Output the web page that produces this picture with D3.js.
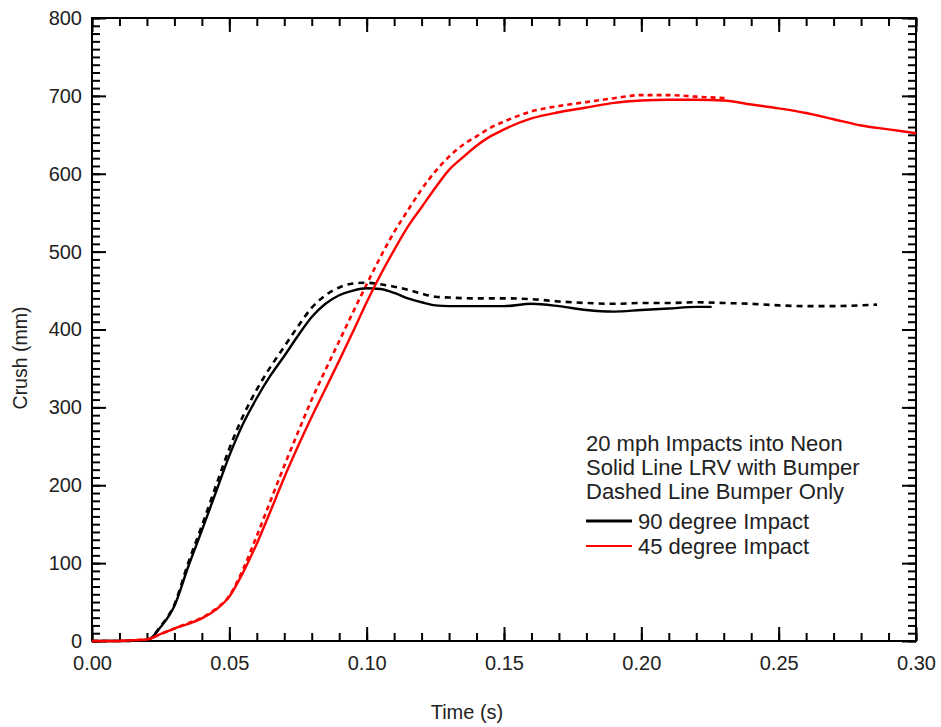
<!DOCTYPE html>
<html><head><meta charset="utf-8">
<script src="https://cdn.jsdelivr.net/npm/d3@7"></script>
<style>
body{margin:0;background:#fff}
text{font-family:Arial,"Liberation Sans",sans-serif;fill:#222}
</style>
</head><body><svg id="c" width="941" height="727"></svg>
<script>
// ---- data ----
const xMajorTicks = [0, 0.05, 0.10, 0.15, 0.20, 0.25, 0.30];
const yMajorTicks = [0, 100, 200, 300, 400, 500, 600, 700, 800];
const xTitle = "Time (s)";
const yTitle = "Crush (mm)";
const legendTitle = ["20 mph Impacts into Neon", "Solid Line LRV with Bumper", "Dashed Line Bumper Only"];
const seriesNames = ["90 degree Impact", "45 degree Impact"];

// [time (s), crush (mm)]
const black90Solid = [[0,0],[0.01,0],[0.02,1],[0.025,18],[0.03,45],[0.035,95],[0.04,142],[0.045,190],[0.05,238],[0.055,279],[0.06,312],[0.065,341],[0.07,366],[0.075,392],[0.08,416],[0.085,433],[0.09,444],[0.095,450],[0.10,453],[0.105,452],[0.11,447],[0.115,440],[0.12,435],[0.125,431],[0.13,430],[0.14,430],[0.15,430],[0.16,433],[0.17,430],[0.18,425],[0.19,423],[0.20,425],[0.21,427],[0.22,429],[0.2256,429]];
const black90Dashed = [[0,0],[0.01,0],[0.02,1],[0.025,19],[0.03,47],[0.035,100],[0.04,148],[0.045,198],[0.05,247],[0.055,289],[0.06,323],[0.065,352],[0.07,378],[0.075,404],[0.08,428],[0.085,444],[0.09,454],[0.095,459],[0.10,460],[0.105,458],[0.11,455],[0.115,451],[0.12,446],[0.125,442],[0.13,441],[0.14,440],[0.15,440],[0.16,439],[0.17,436],[0.18,434],[0.19,433],[0.20,434],[0.21,434],[0.22,435],[0.23,434],[0.24,433],[0.25,431],[0.26,430],[0.27,430],[0.28,431],[0.2858,432]];
const red45Solid = [[0,0],[0.01,0],[0.015,1],[0.02,2],[0.025,9],[0.03,16],[0.035,22],[0.04,29],[0.045,40],[0.05,57],[0.055,88],[0.06,125],[0.065,167],[0.07,210],[0.075,250],[0.08,288],[0.085,324],[0.09,360],[0.095,397],[0.10,435],[0.105,470],[0.11,502],[0.115,532],[0.12,557],[0.125,582],[0.13,605],[0.135,621],[0.14,636],[0.145,648],[0.15,657],[0.16,671],[0.17,679],[0.18,685],[0.19,691],[0.20,694],[0.21,695],[0.22,695],[0.23,694],[0.24,689],[0.25,684],[0.26,678],[0.27,670],[0.28,662],[0.29,657],[0.30,652]];
const red45Dashed = [[0,0],[0.01,0],[0.015,1],[0.02,2],[0.025,9],[0.03,16],[0.035,23],[0.04,30],[0.045,41],[0.05,58],[0.055,92],[0.06,135],[0.065,180],[0.07,225],[0.075,268],[0.08,310],[0.085,348],[0.09,385],[0.095,422],[0.10,458],[0.105,493],[0.11,525],[0.115,553],[0.12,580],[0.125,603],[0.13,622],[0.135,637],[0.14,648],[0.145,659],[0.15,667],[0.16,680],[0.17,687],[0.18,692],[0.19,697],[0.20,701],[0.21,701],[0.22,699],[0.2316,697]];

// ---- layout ----
const svg = d3.select("#c");
const L = 92, R = 916, T = 18, B = 641;
const x = d3.scaleLinear().domain([0, 0.30]).range([L, R]);
const y = d3.scaleLinear().domain([0, 800]).range([B, T]);

const xMinor = d3.range(0, 0.3001, 0.01).map(v => +v.toFixed(2));
const yMinor = d3.range(0, 801, 10);

function styleAxis(g){
  g.select(".domain").remove();
  g.selectAll(".tick line").attr("stroke","#000").attr("stroke-width",2);
  g.selectAll(".tick text").style("font-size","20px").attr("fill","#222");
}
// minor ticks
svg.append("g").attr("transform",`translate(0,${B})`)
  .call(d3.axisBottom(x).tickValues(xMinor).tickSize(-8).tickFormat(""))
  .call(styleAxis);
svg.append("g").attr("transform",`translate(0,${T})`)
  .call(d3.axisTop(x).tickValues(xMinor).tickSize(-8).tickFormat(""))
  .call(styleAxis);
svg.append("g").attr("transform",`translate(${L},0)`)
  .call(d3.axisLeft(y).tickValues(yMinor).tickSize(-8).tickFormat(""))
  .call(styleAxis);
svg.append("g").attr("transform",`translate(${R},0)`)
  .call(d3.axisRight(y).tickValues(yMinor).tickSize(-8).tickFormat(""))
  .call(styleAxis);
// major ticks
svg.append("g").attr("transform",`translate(0,${B})`)
  .call(d3.axisBottom(x).tickValues(xMajorTicks).tickSize(-14).tickPadding(15).tickFormat(d3.format(".2f")))
  .call(styleAxis);
svg.append("g").attr("transform",`translate(0,${T})`)
  .call(d3.axisTop(x).tickValues(xMajorTicks).tickSize(-14).tickFormat(""))
  .call(styleAxis);
svg.append("g").attr("transform",`translate(${L},0)`)
  .call(d3.axisLeft(y).tickValues(yMajorTicks).tickSize(-14).tickPadding(10).tickFormat(d3.format("d")))
  .call(styleAxis);
svg.append("g").attr("transform",`translate(${R},0)`)
  .call(d3.axisRight(y).tickValues(yMajorTicks).tickSize(-14).tickFormat(""))
  .call(styleAxis);

// frame
svg.append("rect").attr("x",L).attr("y",T).attr("width",R-L).attr("height",B-T)
  .attr("fill","none").attr("stroke","#000").attr("stroke-width",2);

// lines
const line = d3.line().x(d=>x(d[0])).y(d=>y(d[1])).curve(d3.curveMonotoneX);
const series = [
  {data: black90Dashed, color:"#000", dash:"6,5", w:2.6},
  {data: red45Dashed, color:"#f00", dash:"5,4", w:2.6},
  {data: black90Solid, color:"#000", dash:null, w:2.4},
  {data: red45Solid, color:"#f00", dash:null, w:2.4}
];
series.forEach(s=>{
  svg.append("path").attr("d", line(s.data)).attr("fill","none")
    .attr("stroke", s.color).attr("stroke-width", s.w)
    .attr("stroke-dasharray", s.dash).attr("stroke-linejoin","round");
});

// axis titles
svg.append("text").attr("x",467).attr("y",719).attr("text-anchor","middle")
  .style("font-size","20px").text(xTitle);
svg.append("text").attr("transform","translate(27,358) rotate(-90)").attr("text-anchor","middle")
  .style("font-size","19.5px").text(yTitle);

// legend
const lx = 586;
legendTitle.forEach((t,i)=>{
  svg.append("text").attr("x",lx).attr("y",451+i*24).style("font-size","22px").text(t);
});
const legColors = ["#000","#f00"];
const legW = [3,2];
seriesNames.forEach((t,i)=>{
  const yy = 521 + i*25;
  svg.append("line").attr("x1",lx).attr("x2",lx+46).attr("y1",yy).attr("y2",yy)
    .attr("stroke",legColors[i]).attr("stroke-width",legW[i]);
  svg.append("text").attr("x",lx+52).attr("y",yy+8).style("font-size","22px").text(t);
});
</script>
</body></html>
